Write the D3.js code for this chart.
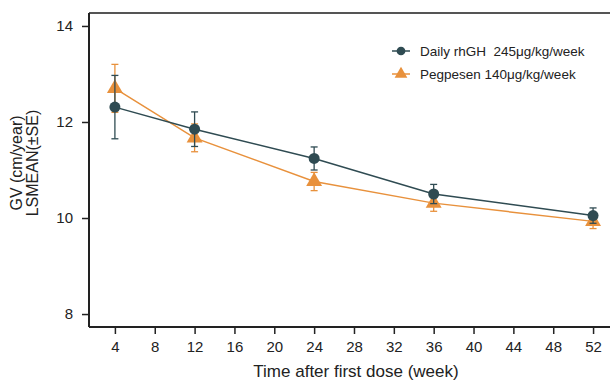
<!DOCTYPE html>
<html>
<head>
<meta charset="utf-8">
<script src="https://cdnjs.cloudflare.com/ajax/libs/d3/7.8.5/d3.min.js"></script>
<style>
  body { margin: 0; background: #fff; }
  svg { display: block; font-family: "Liberation Sans", Arial, sans-serif; }
</style>
</head>
<body>
<svg id="canvas" width="610" height="381"></svg>
<script>
const weeks = [4, 12, 24, 36, 52];
const xTicks = [4, 8, 12, 16, 20, 24, 28, 32, 36, 40, 44, 48, 52];
const yTicks = [8, 10, 12, 14];

const dailyMean = [12.31, 11.85, 11.24, 10.50, 10.05];
const dailySE = [0.66, 0.36, 0.24, 0.20, 0.16];
const pegMean = [12.70, 11.67, 10.76, 10.31, 9.93];
const pegSE = [0.50, 0.29, 0.19, 0.17, 0.15];

const seriesNames = ["Daily rhGH  245μg/kg/week", "Pegpesen 140μg/kg/week"];
const colors = ["#2f4b52", "#e8913c"];

let canvas = d3.select("#canvas");

let plotLeft = 89, plotRight = 610, plotTop = 13, plotBottom = 327;

let x = d3.scaleLinear().domain([1.4, 53.7]).range([plotLeft, plotRight]);
let y = d3.scaleLinear().domain([7.73, 14.27]).range([plotBottom, plotTop]);

// top frame line
canvas.append("line")
  .attr("x1", plotLeft).attr("x2", plotRight)
  .attr("y1", plotTop).attr("y2", plotTop)
  .attr("stroke", "#555").attr("stroke-width", 2);

let xAxis = canvas.append("g")
  .attr("transform", `translate(0,${plotBottom})`)
  .call(d3.axisBottom(x).tickValues(xTicks).tickSizeOuter(0).tickSize(7).tickPadding(7));

let yAxis = canvas.append("g")
  .attr("transform", `translate(${plotLeft},0)`)
  .call(d3.axisLeft(y).tickValues(yTicks).tickFormat(d3.format("d")).tickSizeOuter(0).tickSize(7).tickPadding(9));

[xAxis, yAxis].forEach(g => {
  g.select(".domain").attr("stroke", "#222").attr("stroke-width", 2);
  g.selectAll(".tick line").attr("stroke", "#222").attr("stroke-width", 1.5);
  g.selectAll(".tick text").attr("fill", "#222").style("font-size", "15px");
});
xAxis.select(".domain").attr("d", `M${plotLeft},0H${plotRight}`);
yAxis.select(".domain").attr("d", `M0,${plotTop}V${plotBottom}`);

canvas.append("text")
  .attr("x", 356).attr("y", 377)
  .attr("text-anchor", "middle")
  .attr("fill", "#222")
  .style("font-size", "17px")
  .text("Time after first dose (week)");

let yTitle = canvas.append("text")
  .attr("transform", "translate(24,163) rotate(-90)")
  .attr("text-anchor", "middle")
  .attr("fill", "#222")
  .style("font-size", "16px");
yTitle.append("tspan").attr("x", 0).attr("dy", "-0.15em").text("GV (cm/year)");
yTitle.append("tspan").attr("x", 0).attr("dy", "1.05em").text("LSMEAN(\u00b1SE)");

let series = [
  { name: seriesNames[0], mean: dailyMean, se: dailySE, color: colors[0], shape: d3.symbolCircle },
  { name: seriesNames[1], mean: pegMean, se: pegSE, color: colors[1], shape: d3.symbolTriangle }
];

let line = d3.line().x(d => x(d[0])).y(d => y(d[1]));

// draw orange first underneath, then dark
series.slice().reverse().forEach(s => {
  let g = canvas.append("g");
  let pts = weeks.map((w, i) => [w, s.mean[i], s.se[i]]);

  g.append("path")
    .attr("d", line(pts))
    .attr("fill", "none")
    .attr("stroke", s.color)
    .attr("stroke-width", 1.5);

  let eb = g.selectAll(".eb").data(pts).enter().append("g");
  eb.append("line")
    .attr("x1", d => x(d[0])).attr("x2", d => x(d[0]))
    .attr("y1", d => y(d[1] - d[2])).attr("y2", d => y(d[1] + d[2]))
    .attr("stroke", s.color).attr("stroke-width", 1.3);
  [-1, 1].forEach(sign => {
    eb.append("line")
      .attr("x1", d => x(d[0]) - 3.5).attr("x2", d => x(d[0]) + 3.5)
      .attr("y1", d => y(d[1] + sign * d[2])).attr("y2", d => y(d[1] + sign * d[2]))
      .attr("stroke", s.color).attr("stroke-width", 1.3);
  });

  g.selectAll(".pt").data(pts).enter().append("path")
    .attr("d", d3.symbol().type(s.shape).size(s.shape === d3.symbolCircle ? 95 : 110))
    .attr("transform", d => `translate(${x(d[0])},${y(d[1])})`)
    .attr("fill", s.color);
});

// legend
let legend = canvas.append("g").attr("transform", "translate(392,51)");
series.forEach((s, i) => {
  let row = legend.append("g").attr("transform", `translate(0,${i * 23})`);
  row.append("line").attr("x1", 0).attr("x2", 18).attr("y1", 0).attr("y2", 0)
    .attr("stroke", s.color).attr("stroke-width", 1.5);
  row.append("path")
    .attr("d", d3.symbol().type(s.shape).size(s.shape === d3.symbolCircle ? 60 : 70))
    .attr("transform", "translate(9,0)")
    .attr("fill", s.color);
  row.append("text")
    .attr("x", 28).attr("y", 0).attr("dy", "0.35em")
    .attr("fill", "#222")
    .style("font-size", "13.5px")
    .style("white-space", "pre")
    .text(s.name);
});
</script>
</body>
</html>
